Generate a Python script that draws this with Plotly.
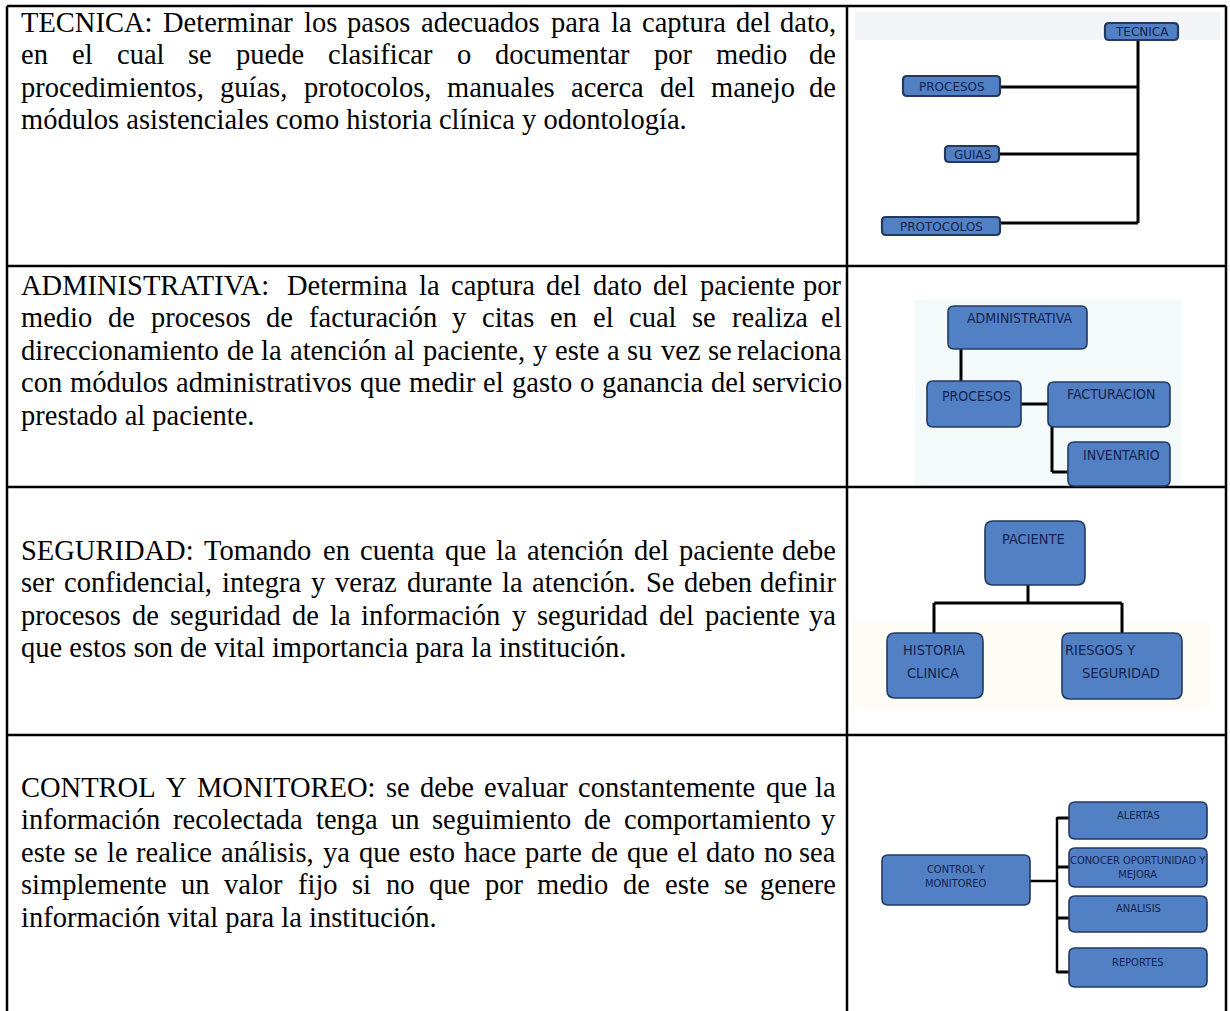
import plotly.graph_objects as go

# ---------------- data ----------------
tecnica_lines = [
    "TECNICA: Determinar los pasos adecuados para la captura del dato,",
    "en el cual se puede clasificar o documentar por medio de",
    "procedimientos, guías, protocolos, manuales acerca del manejo de",
    "módulos asistenciales como historia clínica y odontología.",
]
administrativa_lines = [
    "ADMINISTRATIVA: Determina la captura del dato del paciente por",
    "medio de procesos de facturación y citas en el cual se realiza el",
    "direccionamiento de la atención al paciente, y este a su vez se relaciona",
    "con módulos administrativos que medir el gasto o ganancia del servicio",
    "prestado al paciente.",
]
seguridad_lines = [
    "SEGURIDAD: Tomando en cuenta que la atención del paciente debe",
    "ser confidencial, integra y veraz durante la atención. Se deben definir",
    "procesos de seguridad de la información y seguridad del paciente ya",
    "que estos son de vital importancia para la institución.",
]
control_lines = [
    "CONTROL Y MONITOREO: se debe evaluar constantemente que la",
    "información recolectada tenga un seguimiento de comportamiento y",
    "este se le realice análisis, ya que esto hace parte de que el dato no sea",
    "simplemente un valor fijo si no que por medio de este se genere",
    "información vital para la institución.",
]

tecnica_nodes = ["TECNICA", "PROCESOS", "GUIAS", "PROTOCOLOS"]
administrativa_nodes = ["ADMINISTRATIVA", "PROCESOS", "FACTURACION", "INVENTARIO"]
seguridad_nodes = [["PACIENTE"], ["HISTORIA", "CLINICA"], ["RIESGOS Y", "SEGURIDAD"]]
control_nodes = ["CONTROL Y<br>MONITOREO", "ALERTAS", "CONOCER OPORTUNIDAD Y<br>MEJORA", "ANALISIS", "REPORTES"]

# ---------------- layout geometry ----------------
W, H = 1230, 1011
TX_LEFT = 20
FS = 28.5
PITCH = 32.5
row_tops = [6, 266, 487, 735]
paragraphs = [
    (tecnica_lines, 32, 837),
    (administrativa_lines, 295, 843),
    (seguridad_lines, 560, 837),
    (control_lines, 797, 837),
]

# Times / Liberation Serif advance widths (per 1000 em)
AFM = {' ': 250, ',': 250, '.': 250, ':': 278, ';': 278, '-': 333,
       'a': 444, 'b': 500, 'c': 444, 'd': 500, 'e': 444, 'f': 333, 'g': 500, 'h': 500,
       'i': 278, 'j': 278, 'k': 500, 'l': 278, 'm': 778, 'n': 500, 'o': 500, 'p': 500,
       'q': 500, 'r': 333, 's': 389, 't': 278, 'u': 500, 'v': 500, 'w': 722, 'x': 500,
       'y': 500, 'z': 444, 'á': 444, 'é': 444, 'í': 278, 'ó': 500, 'ú': 500, 'ñ': 500,
       'A': 722, 'B': 667, 'C': 667, 'D': 722, 'E': 611, 'F': 556, 'G': 722, 'H': 722,
       'I': 333, 'J': 389, 'K': 722, 'L': 611, 'M': 889, 'N': 722, 'O': 722, 'P': 556,
       'Q': 722, 'R': 667, 'S': 556, 'T': 611, 'U': 722, 'V': 722, 'W': 944, 'X': 722,
       'Y': 722, 'Z': 611}


def tw(s):
    return sum(AFM.get(c, 500) for c in s) * FS / 1000.0


fig = go.Figure()
fig.add_trace(go.Scatter(x=[0, W], y=[0, H], mode="markers", marker=dict(opacity=0),
                         hoverinfo="skip", showlegend=False))

annotations = []
shapes = []
SERIF = "Liberation Serif, Times New Roman, serif"


def add_text(x, ybase, text, anchor="left"):
    annotations.append(dict(x=x, y=ybase - 0.34 * FS, xref="x", yref="y", text=text,
                            showarrow=False, xanchor=anchor, yanchor="middle", borderpad=0,
                            font=dict(family=SERIF, size=FS, color="#000000")))


for lines, base0, right in paragraphs:
    for i, line in enumerate(lines):
        yb = base0 + i * PITCH
        words = line.split(" ")
        if i == len(lines) - 1 or len(words) == 1:
            add_text(TX_LEFT, yb, line)
            continue
        widths = [tw(w) for w in words]
        gap = (right - TX_LEFT - sum(widths)) / (len(words) - 1)
        x = TX_LEFT
        for j, (w, wd) in enumerate(zip(words, widths)):
            if j == len(words) - 1:
                add_text(right, yb, w, anchor="right")
            else:
                add_text(x, yb, w)
            x += wd + gap

# ---------------- table grid ----------------
LINE = dict(color="#000000", width=2.5)
COL_X = 847
LEFT_X, RIGHT_X = 7, 1226
for yt in row_tops:
    shapes.append(dict(type="line", x0=LEFT_X, x1=RIGHT_X, y0=yt, y1=yt, xref="x", yref="y", line=LINE))
for xv in (LEFT_X, COL_X, RIGHT_X):
    shapes.append(dict(type="line", x0=xv, x1=xv, y0=row_tops[0], y1=H + 5, xref="x", yref="y", line=LINE))

# ---------------- diagrams ----------------
BOX_FILL = "#5181C4"
BOX_LINE = "#24395F"
TXT = "#16224E"
NARROW = "Liberation Sans Narrow, DejaVu Sans Condensed, Arial Narrow, sans-serif"


def rrect(x0, y0, x1, y1, r=6):
    return (f"M{x0 + r},{y0} L{x1 - r},{y0} Q{x1},{y0} {x1},{y0 + r} L{x1},{y1 - r} "
            f"Q{x1},{y1} {x1 - r},{y1} L{x0 + r},{y1} Q{x0},{y1} {x0},{y1 - r} "
            f"L{x0},{y0 + r} Q{x0},{y0} {x0 + r},{y0} Z")


def box(b, r=6, lw=1.6):
    shapes.append(dict(type="path", path=rrect(*b, r=r), xref="x", yref="y",
                       fillcolor=BOX_FILL, line=dict(color=BOX_LINE, width=lw)))


def conn(pts, width=3):
    for (xa, ya), (xb, yb) in zip(pts[:-1], pts[1:]):
        shapes.append(dict(type="line", x0=xa, y0=ya, x1=xb, y1=yb, xref="x", yref="y",
                           line=dict(color="#000000", width=width)))


def label(x, y, text, size, family=NARROW):
    annotations.append(dict(x=x, y=y, xref="x", yref="y", text=text, showarrow=False,
                            xanchor="center", yanchor="middle", align="center",
                            font=dict(family=family, size=size, color=TXT)))


# faint backgrounds of the pasted pictures
shapes.append(dict(type="rect", x0=855, x1=1220, y0=12, y1=40, xref="x", yref="y",
                   fillcolor="rgba(215,220,232,0.30)", line=dict(width=0), layer="below"))
shapes.append(dict(type="rect", x0=915, x1=1182, y0=300, y1=486, xref="x", yref="y",
                   fillcolor="rgba(228,242,240,0.40)", line=dict(width=0), layer="below"))
shapes.append(dict(type="rect", x0=852, x1=1210, y0=622, y1=708, xref="x", yref="y",
                   fillcolor="rgba(250,246,225,0.35)", line=dict(width=0), layer="below"))

# Diagram 1 : TECNICA
d1_boxes = [(1105, 23, 1178, 40), (903, 76, 1000, 96), (945, 146, 999, 162), (882, 217, 1000, 235)]
conn([(1138, 40), (1138, 223)])
conn([(1000, 87), (1138, 87)])
conn([(999, 154), (1138, 154)])
conn([(1000, 223), (1138, 223)])
for b, t in zip(d1_boxes, tecnica_nodes):
    box(b, r=4, lw=2.2)
    label((b[0] + b[2]) / 2, (b[1] + b[3]) / 2 + 0.5, t, 12, family="DejaVu Sans, Verdana, sans-serif")

# Diagram 2 : ADMINISTRATIVA
d2_boxes = [(948, 306, 1087, 349), (927, 381, 1021, 427), (1048, 382, 1170, 427), (1068, 442, 1170, 486)]
d2_text_y = [318, 396, 394, 455]
conn([(961, 349), (961, 383)])
conn([(1021, 404), (1052, 404), (1052, 472), (1069, 472)])
for b, t, ty in zip(d2_boxes, administrativa_nodes, d2_text_y):
    box(b)
    label((b[0] + b[2]) / 2 + 2, ty, t, 14)

# Diagram 3 : PACIENTE
d3_boxes = [(985, 521, 1085, 585), (887, 633, 983, 698), (1062, 633, 1182, 699)]
d3_text_xy = [[(1033, 539)], [(934, 650), (933, 673)], [(1100, 650), (1121, 673)]]
conn([(1028, 585), (1028, 603)])
conn([(934, 603), (1122, 603)])
conn([(934, 603), (934, 635)])
conn([(1122, 603), (1122, 635)])
for b, parts, pos in zip(d3_boxes, seguridad_nodes, d3_text_xy):
    box(b, r=8)
    for t, (tx, ty) in zip(parts, pos):
        label(tx, ty, t, 14.5)

# Diagram 4 : CONTROL Y MONITOREO
d4_boxes = [(882, 855, 1030, 905), (1069, 802, 1207, 839), (1069, 848, 1207, 887),
            (1069, 896, 1207, 932), (1069, 948, 1207, 987)]
d4_text_y = [876, 815, 867, 908, 962]
conn([(1030, 881), (1057, 881)], width=2.5)
conn([(1057, 817), (1057, 973)], width=2.5)
for yy in (818, 867, 918, 972):
    conn([(1057, yy), (1071, yy)], width=3)
for b, t, ty in zip(d4_boxes, control_nodes, d4_text_y):
    box(b)
    label((b[0] + b[2]) / 2, ty, t, 11)

fig.update_layout(
    width=W, height=H, margin=dict(l=0, r=0, t=0, b=0),
    paper_bgcolor="white", plot_bgcolor="white", showlegend=False,
    xaxis=dict(range=[0, W], visible=False, fixedrange=True),
    yaxis=dict(range=[H, 0], visible=False, fixedrange=True),
    shapes=shapes, annotations=annotations,
)

fig.write_html("out.html", config={"displayModeBar": False},
               post_script="document.body.style.margin='0';document.body.style.overflow='hidden';")
